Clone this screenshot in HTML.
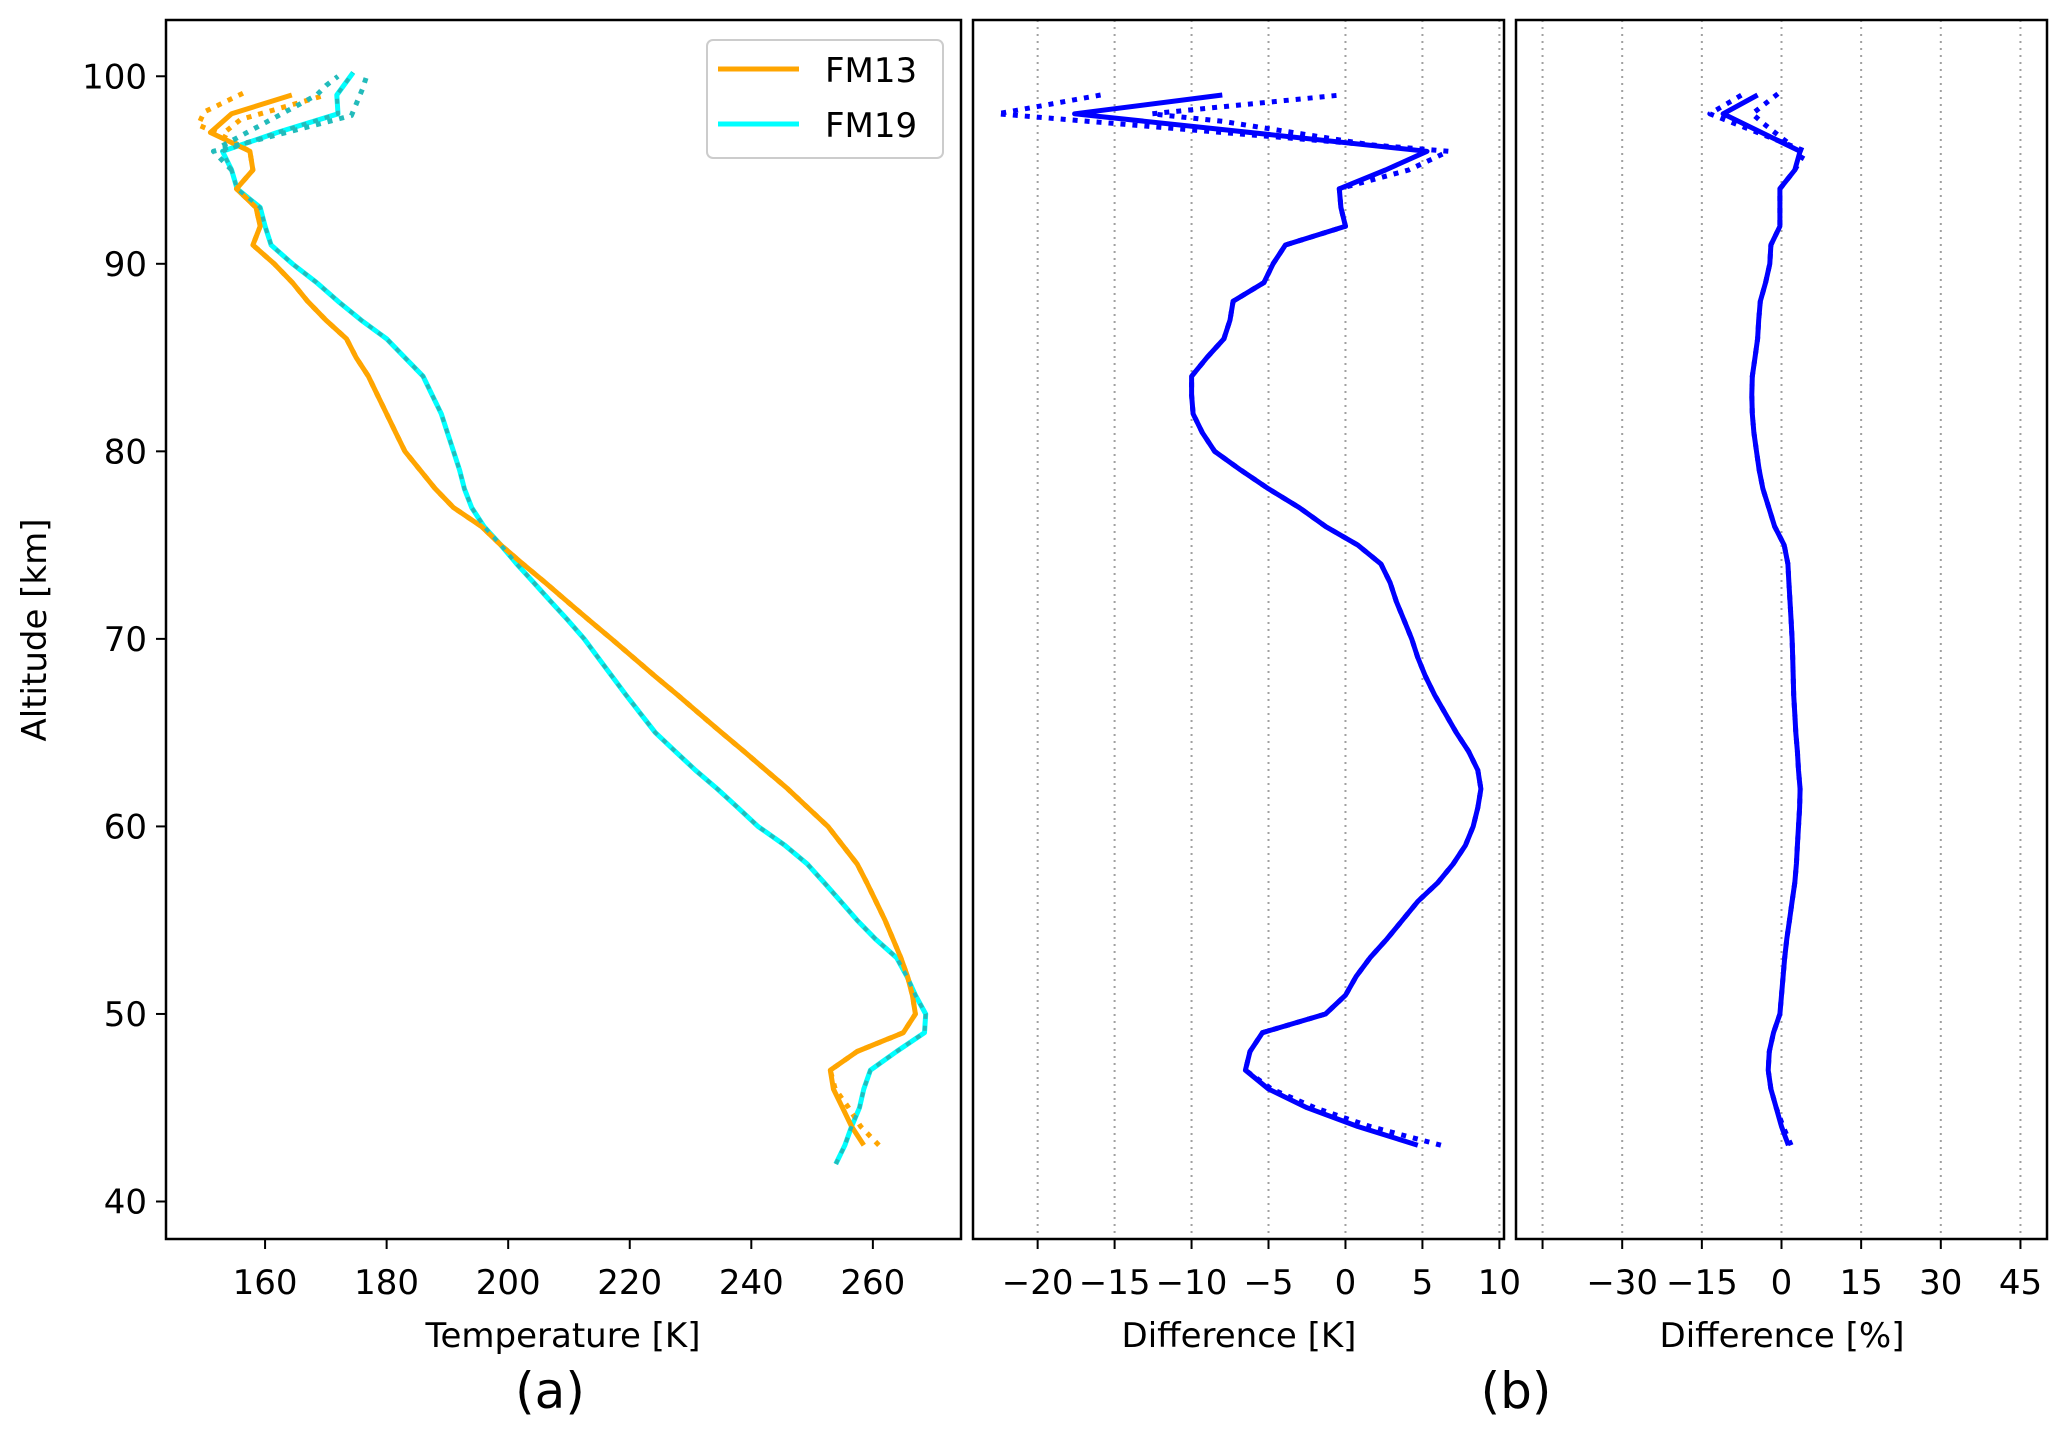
<!DOCTYPE html>
<html><head><meta charset="utf-8"><style>
body{margin:0;background:#fff}
svg text{font-family:"DejaVu Sans","Liberation Sans",sans-serif;fill:#000}
</style></head><body>
<svg id="chart" width="2067" height="1436" viewBox="0 0 2067 1436" xmlns="http://www.w3.org/2000/svg">
<rect width="2067" height="1436" fill="#fff"/>
<g id="layer"></g>
<text x="46" y="630" font-size="34" text-anchor="middle" transform="rotate(-90 46 630)">Altitude [km]</text>
<text x="563" y="1347" font-size="34" text-anchor="middle">Temperature [K]</text>
<text x="1239" y="1347" font-size="34" text-anchor="middle">Difference [K]</text>
<text x="1782" y="1347" font-size="34" text-anchor="middle">Difference [%]</text>
<text x="550" y="1408" font-size="50" text-anchor="middle">(a)</text>
<text x="1516" y="1408" font-size="50" text-anchor="middle">(b)</text>
<g>
<rect x="707" y="40" width="236" height="118" rx="6" fill="#fff" stroke="#ccc" stroke-width="2"/>
<line x1="718" y1="69" x2="799" y2="69" stroke="#ffa500" stroke-width="5"/>
<text x="825" y="82" font-size="34">FM13</text>
<line x1="718" y1="124" x2="799" y2="124" stroke="#00ffff" stroke-width="5"/>
<text x="825" y="137" font-size="34">FM19</text>
</g>
</svg>
<script>
// ---- data ----
const alts = [43,44,45,46,47,48,49,50,51,52,53,54,55,56,57,58,59,60,61,62,63,64,65,66,67,68,69,70,71,72,73,74,75,76,77,78,79,80,81,82,83,84,85,86,87,88,89,90,91,92,93,94,95,96,97,98,99];
const fm13 = [258.5,256.5,255,253.5,253,257.4,265,267,266.5,265.7,264.6,263.3,262,260.5,259,257.4,255,252.6,249.3,246,242.4,238.8,235.1,231.5,227.9,224.2,220.6,217,213.3,209.7,206.1,202.4,198.8,195.6,191,188,185.5,183,181.5,180,178.5,177,175,173.4,170,167,164.5,161.5,158,159.2,158.5,155.3,158,157.5,151,154.5,164.4];
const fm13DotAlt = [43,44,45,46,47,48,49,50,51,52,53,54,55,56,57,58,59,60,61,62,63,64,65,66,67,68,69,70,71,72,73,74,75,76,77,78,79,80,81,82,83,84,85,86,87,88,89,90,91,92,93,94,95,96,97,97.4,98.1,99.1];
const fm13DotVal = [261,258,256,253.8,253,257.4,265,267,266.5,265.7,264.6,263.3,262,260.5,259,257.4,255,252.6,249.3,246,242.4,238.8,235.1,231.5,227.9,224.2,220.6,217,213.3,209.7,206.1,202.4,198.8,195.6,191,188,185.5,183,181.5,180,178.5,177,175,173.4,170,167,164.5,161.5,158,159.2,158.5,155.3,158,157.5,152,149,150,156.4];
const fm13DotBranchAlt = [97.1,97.7,99];
const fm13DotBranchVal = [153.7,156,170];
const fm19Alt = [42,43,44,45,46,47,48,49,50,51,52,53,54,55,56,57,58,59,60,61,62,63,64,65,66,67,68,69,70,71,72,73,74,75,76,77,78,79,80,81,82,83,84,85,86,87,88,89,90,91,92,93,94,95,96,97,98,99,100.2];
const fm19 = [253.9,255.4,256.5,257.8,258.5,259.6,263.9,268.5,268.7,267,265.6,263.9,260.4,257.4,254.7,252,249.2,245.5,241.1,237.8,234.4,230.8,227.5,224.2,221.8,219.4,217.1,214.8,212.5,209.8,207,204.2,201.4,198.8,196,194,192.8,192,191,190,189,187.5,186,183,180,175.8,172,168.5,164.5,161,160,159.2,155.4,154.5,153,162,172,171.8,174.5];
const fm19DotTopAlt = [95,96,97.9,99.3,100];
const fm19DotTopVal = [154.5,151.5,174.2,176,176.7];
const fm19DotBranchAlt = [96.3,99,99.5,100];
const fm19DotBranchVal = [153,168.5,170,172];
const diffAlt = [43,44,45,46,47,48,49,50,51,52,53,54,55,56,57,58,59,60,61,62,63,64,65,66,67,68,69,70,71,72,73,74,75,76,77,78,79,80,81,82,83,84,85,86,87,88,89,90,91,92,93,94,95,96,98,99];
const diffK = [4.7,0.8,-2.5,-5,-6.5,-6.2,-5.4,-1.3,0,0.7,1.6,2.7,3.7,4.7,6,7,7.8,8.3,8.6,8.8,8.6,8,7.2,6.5,5.8,5.2,4.7,4.3,3.8,3.3,2.9,2.3,0.8,-1.3,-3,-5,-6.8,-8.5,-9.3,-9.9,-10,-10,-9,-7.9,-7.5,-7.3,-5.3,-4.7,-3.9,0,-0.3,-0.4,2.6,5.3,-17.6,-8];
const diffKDot = [6.2,1.6,-2,-4.8,-6.5,-6.2,-5.4,-1.3,0,0.7,1.6,2.7,3.7,4.7,6,7,7.8,8.3,8.6,8.8,8.6,8,7.2,6.5,5.8,5.2,4.7,4.3,3.8,3.3,2.9,2.3,0.8,-1.3,-3,-5,-6.8,-8.5,-9.3,-9.9,-10,-10,-9,-7.9,-7.5,-7.3,-5.3,-4.7,-3.9,0,-0.3,-0.4,4.1,6.7,-22.6,-15.9];
const diffKBranchAlt = [96.3,97.6,98,99];
const diffKBranchVal = [2,-8,-12.6,-0.3];
const diffPct = [1.3,0,-1,-2,-2.5,-2.3,-1.5,-0.3,0,0.3,0.6,1,1.5,2,2.5,2.8,3,3.2,3.4,3.5,3.2,3,2.7,2.5,2.3,2.2,2.1,2,1.8,1.6,1.4,1.2,0.5,-1.3,-2.4,-3.5,-4.2,-4.7,-5.2,-5.5,-5.6,-5.5,-5,-4.5,-4.3,-4,-3,-2.2,-2,-0.3,-0.3,-0.3,2.5,3.5,-11,-4.5];
const diffPctDot = [1.8,0.3,-1,-2,-2.5,-2.3,-1.5,-0.3,0,0.3,0.6,1,1.5,2,2.5,2.8,3,3.2,3.4,3.5,3.2,3,2.7,2.5,2.3,2.2,2.1,2,1.8,1.6,1.4,1.2,0.5,-1.3,-2.4,-3.5,-4.2,-4.7,-5.2,-5.5,-5.6,-5.5,-5,-4.5,-4.3,-4,-3,-2.2,-2,-0.3,-0.3,-0.3,2.5,4.5,-13.5,-7.5];
const diffPctBranchAlt = [96.5,97.5,98,99.1];
const diffPctBranchVal = [1,-3.5,-5.5,-0.5];
const altTicks = [40,50,60,70,80,90,100];
const tempTicks = [160,180,200,220,240,260];
const kTicks = [-20,-15,-10,-5,0,5,10];
const pctTicks = [-45,-30,-15,0,15,30,45];
const pctTickLabels = ['','\u221230','\u221215','0','15','30','45'];

// ---- axes ----
const NS='http://www.w3.org/2000/svg';
const layer=document.getElementById('layer');
const Y0=20,Y1=1239,ALT0=38,ALT1=103;
function yPix(a){return Y0+(ALT1-a)/(ALT1-ALT0)*(Y1-Y0);}
function mkX(l,r,d0,d1){return v=>l+(v-d0)/(d1-d0)*(r-l);}
const panels=[
 {name:'temperature-panel',l:166,r:961,x:mkX(166,961,143.7,274.5)},
 {name:'difference-k-panel',l:973,r:1504,x:mkX(973,1504,-24.2,10.3)},
 {name:'difference-pct-panel',l:1516,r:2047,x:mkX(1516,2047,-50,50)}
];
function el(tag,attrs,parent){const e=document.createElementNS(NS,tag);for(const k in attrs)e.setAttribute(k,attrs[k]);(parent||layer).appendChild(e);return e;}
function fmt(v){return v<0?'\u2212'+(-v):String(v);}

[[1,kTicks],[2,pctTicks]].forEach(([pi,ticks])=>{
 const p=panels[pi];
 ticks.forEach(t=>{
  const g=el('line',{x1:p.x(t),x2:p.x(t),y1:Y0,y2:Y1,stroke:'#a0a0a0','stroke-width':2,'stroke-dasharray':'2 5'});
  
  
 });
});

function line(p,xs,ys,color,dash,name,w){
 const pts=xs.map((v,i)=>p.x(v).toFixed(1)+','+yPix(ys[i]).toFixed(1)).join(' ');
 const a={points:pts,fill:'none',stroke:color,'stroke-width':w||5,'stroke-linejoin':'round'};
 if(dash)a['stroke-dasharray']=dash;
 const e=el('polyline',a);
 
 
}
const P=panels;
line(P[0],fm19,fm19Alt,'#00ffff',null,'fm19-solid-line');
line(P[0],fm13,alts,'#ffa500',null,'fm13-solid-line');
line(P[0],fm13DotVal,fm13DotAlt,'#ffa500','5 7','fm13-dotted-line');
line(P[0],fm13DotBranchVal,fm13DotBranchAlt,'#ffa500','5 7','fm13-dotted-branch');
line(P[0],fm19,fm19Alt,'#22bbbb','5 7','fm19-dotted-line',4);
line(P[0],fm19DotTopVal,fm19DotTopAlt,'#22bbbb','5 7','fm19-dotted-top');
line(P[0],fm19DotBranchVal,fm19DotBranchAlt,'#22bbbb','5 7','fm19-dotted-branch');
line(P[1],diffK,diffAlt,'#0000ff',null,'diff-k-solid-line');
line(P[1],diffKDot,diffAlt,'#0000ff','5 7','diff-k-dotted-line');
line(P[1],diffKBranchVal,diffKBranchAlt,'#0000ff','5 7','diff-k-dotted-branch');
line(P[2],diffPct,diffAlt,'#0000ff',null,'diff-pct-solid-line');
line(P[2],diffPctDot,diffAlt,'#0000ff','5 7','diff-pct-dotted-line');
line(P[2],diffPctBranchVal,diffPctBranchAlt,'#0000ff','5 7','diff-pct-dotted-branch');

panels.forEach(p=>{
 const f=el('rect',{x:p.l,y:Y0,width:p.r-p.l,height:Y1-Y0,fill:'none',stroke:'#000','stroke-width':2.5});
 
 
});
altTicks.forEach(t=>{
 const y=yPix(t);
 el('line',{x1:156,x2:166,y1:y,y2:y,stroke:'#000','stroke-width':2});
 const tx=el('text',{x:147,y:y+12,'font-size':34,'text-anchor':'end'});
 tx.textContent=t;
 
 
});
function xticks(p,ticks,labels){
 ticks.forEach((t,i)=>{
  const x=p.x(t);
  el('line',{x1:x,x2:x,y1:Y1,y2:Y1+10,stroke:'#000','stroke-width':2});
  const tx=el('text',{x:x,y:1294,'font-size':34,'text-anchor':'middle'});
  tx.textContent=labels?labels[i]:fmt(t);
  
  
 });
}
xticks(P[0],tempTicks);
xticks(P[1],kTicks);
xticks(P[2],pctTicks,pctTickLabels);
</script>
</body></html>
